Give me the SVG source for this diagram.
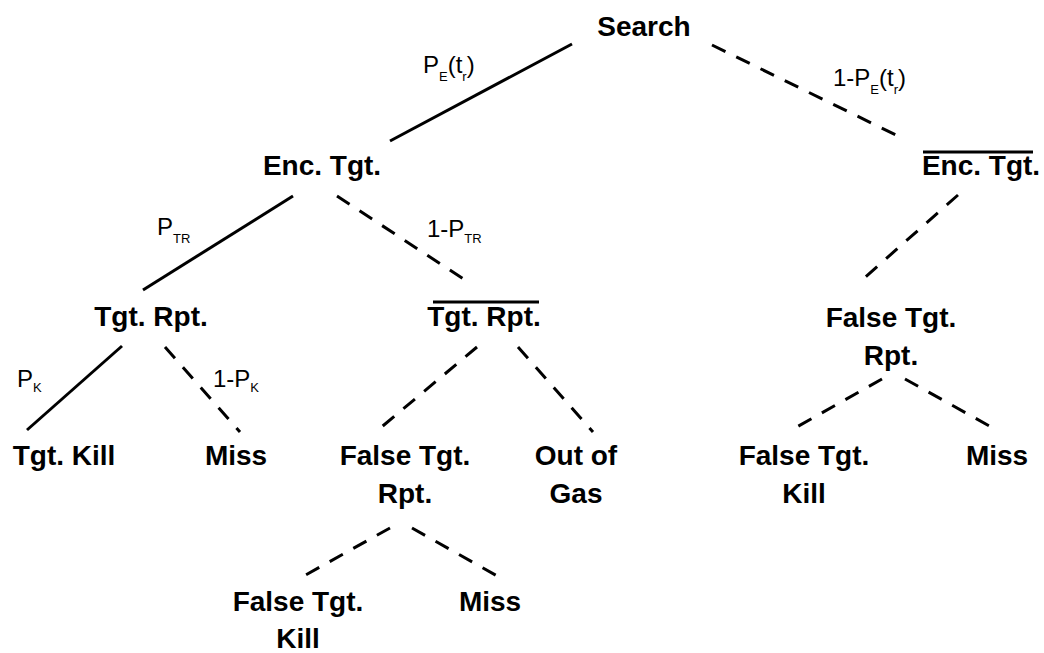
<svg xmlns="http://www.w3.org/2000/svg" width="1044" height="653" viewBox="0 0 1044 653">
<style>
.n{font-family:"Liberation Sans",Arial,sans-serif;font-weight:bold;font-size:28px;fill:#000;text-anchor:middle}
.l{font-family:"Liberation Sans",Arial,sans-serif;font-size:24px;fill:#000}
.s{font-size:13px}
.solid{stroke:#000;stroke-width:3;fill:none}
.dash{stroke:#000;stroke-width:3;fill:none;stroke-dasharray:15 12}
.bar{stroke:#000;stroke-width:3}
</style>
<rect width="1044" height="653" fill="#fff"/>
<g id="connectors">
<line class="solid" x1="572" y1="44" x2="390" y2="141"/>
<line class="dash" x1="712" y1="45" x2="902" y2="138"/>
<line class="solid" x1="293" y1="196" x2="143" y2="290"/>
<line class="dash" x1="337" y1="196" x2="465" y2="280"/>
<line class="solid" x1="122" y1="346" x2="27" y2="430"/>
<line class="dash" x1="165" y1="347" x2="240" y2="432"/>
<line class="dash" x1="477" y1="347" x2="378" y2="430"/>
<line class="dash" x1="518" y1="347" x2="593" y2="432"/>
<line class="dash" x1="958" y1="195" x2="862" y2="280"/>
<line class="dash" x1="882" y1="379" x2="795" y2="428"/>
<line class="dash" x1="905" y1="379" x2="993" y2="428"/>
<line class="dash" x1="390" y1="528" x2="302" y2="577"/>
<line class="dash" x1="412" y1="528" x2="499" y2="577"/>
</g>
<g id="edge-labels">
<text class="l" x="423" y="73">P<tspan class="s" dy="8">E</tspan><tspan dy="-8">(t</tspan><tspan class="s" dy="8">r</tspan><tspan dy="-8">)</tspan></text>
<text class="l" x="833" y="86">1-P<tspan class="s" dy="8">E</tspan><tspan dy="-8">(t</tspan><tspan class="s" dy="8">r</tspan><tspan dy="-8">)</tspan></text>
<text class="l" x="157" y="235">P<tspan class="s" dy="8">TR</tspan></text>
<text class="l" x="427" y="237">1-P<tspan class="s" dy="6">TR</tspan></text>
<text class="l" x="17" y="387">P<tspan class="s" dy="5">K</tspan></text>
<text class="l" x="213" y="387">1-P<tspan class="s" dy="5">K</tspan></text>
</g>
<g id="search"><text class="n" x="644" y="36">Search</text></g>
<g id="enc-tgt"><text class="n" x="322" y="175">Enc. Tgt.</text></g>
<g id="not-enc-tgt"><line class="bar" x1="923" y1="152" x2="1033" y2="152"/><text class="n" x="981" y="175">Enc. Tgt.</text></g>
<g id="tgt-rpt"><text class="n" x="151" y="326">Tgt. Rpt.</text></g>
<g id="not-tgt-rpt"><line class="bar" x1="433" y1="302" x2="539" y2="302"/><text class="n" x="484" y="326">Tgt. Rpt.</text></g>
<g id="tgt-kill"><text class="n" x="64" y="465">Tgt. Kill</text></g>
<g id="miss-1"><text class="n" x="236" y="465">Miss</text></g>
<g id="false-tgt-rpt-1"><text class="n" x="405" y="465">False Tgt.</text><text class="n" x="405" y="503">Rpt.</text></g>
<g id="out-of-gas"><text class="n" x="576" y="465">Out of</text><text class="n" x="576" y="503">Gas</text></g>
<g id="false-tgt-rpt-2"><text class="n" x="891" y="327">False Tgt.</text><text class="n" x="891" y="365">Rpt.</text></g>
<g id="false-tgt-kill-2"><text class="n" x="804" y="465">False Tgt.</text><text class="n" x="804" y="503">Kill</text></g>
<g id="miss-3"><text class="n" x="997" y="465">Miss</text></g>
<g id="false-tgt-kill-1"><text class="n" x="298" y="611">False Tgt.</text><text class="n" x="298" y="648">Kill</text></g>
<g id="miss-2"><text class="n" x="490" y="611">Miss</text></g>
</svg>
